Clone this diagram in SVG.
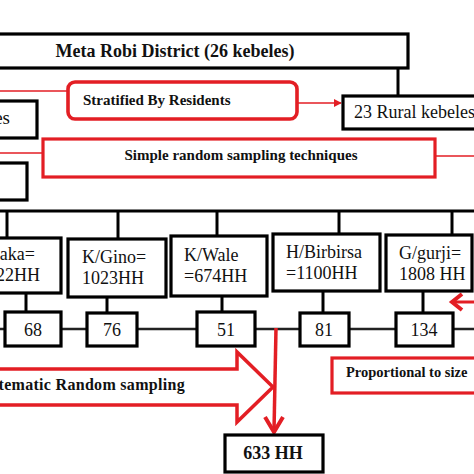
<svg xmlns="http://www.w3.org/2000/svg" width="474" height="474" viewBox="0 0 474 474">
<defs>
<style>
.bx{fill:#fff;stroke:#000;stroke-width:3.2}
.rb{fill:#fff;stroke:#e31e24;stroke-width:3.2}
.ln{fill:none;stroke:#000;stroke-width:3}
.rl{fill:none;stroke:#e31e24;stroke-width:1.6}
.t{font-family:"Liberation Serif","Times New Roman",serif;font-size:18px;fill:#111}
.tb{font-family:"Liberation Serif","Times New Roman",serif;font-weight:bold;font-size:15px;fill:#111}
</style>
<marker id="ah" viewBox="0 0 10 10" refX="9" refY="5" markerWidth="5" markerHeight="5" orient="auto">
<path d="M0,0 L10,5 L0,10 z" fill="#e31e24"/>
</marker>
</defs>
<rect width="474" height="474" fill="#fff"/>
<g id="connectors">
<line class="ln" x1="398" y1="68" x2="398" y2="96"/>
<line class="rl" x1="0" y1="91" x2="68" y2="91"/>
<line class="rl" x1="297" y1="103" x2="341" y2="103" marker-end="url(#ah)"/>
<line class="rl" x1="0" y1="153" x2="43" y2="153"/>
<line class="rl" x1="435" y1="156" x2="474" y2="156"/>
<line class="ln" x1="0" y1="211" x2="474" y2="211"/>
<line class="ln" x1="7" y1="211" x2="7" y2="238"/>
<line class="ln" x1="118" y1="211" x2="118" y2="239"/>
<line class="ln" x1="217" y1="211" x2="217" y2="236"/>
<line class="ln" x1="339" y1="211" x2="339" y2="234"/>
<line class="ln" x1="452" y1="211" x2="452" y2="235"/>
<line class="ln" x1="26" y1="293" x2="26" y2="312"/>
<line class="ln" x1="107" y1="297" x2="107" y2="313"/>
<line class="ln" x1="222" y1="296" x2="222" y2="312"/>
<line class="ln" x1="323" y1="291" x2="323" y2="313"/>
<line class="ln" x1="423" y1="291" x2="423" y2="313"/>
<line x1="0" y1="329" x2="474" y2="329" stroke="#222" stroke-width="2.6"/>
<line x1="474" y1="302" x2="455" y2="302" stroke="#e31e24" stroke-width="3"/>
<path d="M462,294 L452,302 L462,310" fill="none" stroke="#e31e24" stroke-width="4" stroke-linejoin="miter"/>
<line x1="276" y1="328" x2="274" y2="431" stroke="#e31e24" stroke-width="3.5"/>
<path d="M265,417 L274,432 L283,417" fill="none" stroke="#e31e24" stroke-width="4"/>
</g>
<g id="meta-robi">
<rect class="bx" x="-5" y="34" width="413" height="34"/>
<text class="tb" x="175" y="57" text-anchor="middle" style="font-size:18px">Meta Robi District (26 kebeles)</text>
</g>
<g id="stratified">
<rect class="rb" x="68" y="82" width="229" height="37" rx="7" style="stroke-width:3.6"/>
<text class="tb" x="83" y="105">Stratified By Residents</text>
</g>
<g id="rural">
<rect class="bx" x="343" y="96" width="140" height="33"/>
<text class="t" x="354" y="118" style="font-size:18px">23 Rural kebeles</text>
</g>
<g id="urban">
<rect class="bx" x="-5" y="101" width="42" height="37"/>
<text class="t" x="10" y="124" text-anchor="end" style="font-size:19px">es</text>
</g>
<g id="simple-random">
<rect class="rb" x="43" y="139" width="392" height="38"/>
<text class="tb" x="241" y="160" text-anchor="middle">Simple random sampling techniques</text>
</g>
<g id="left-small">
<rect class="bx" x="-5" y="163" width="32" height="37"/>
</g>
<g id="chaka">
<rect class="bx" x="-5" y="238" width="66" height="55"/>
<text class="t" x="35" y="260" text-anchor="end">aka=</text>
<text class="t" x="40" y="281" text-anchor="end">22HH</text>
</g>
<g id="gino">
<rect class="bx" x="68" y="239" width="98" height="58"/>
<text class="t" x="82" y="263">K/Gino=</text>
<text class="t" x="82" y="284">1023HH</text>
</g>
<g id="wale">
<rect class="bx" x="171" y="236" width="96" height="60"/>
<text class="t" x="184" y="261">K/Wale</text>
<text class="t" x="184" y="282">=674HH</text>
</g>
<g id="birbirsa">
<rect class="bx" x="273" y="234" width="107" height="57"/>
<text class="t" x="286" y="258">H/Birbirsa</text>
<text class="t" x="286" y="279">=1100HH</text>
</g>
<g id="gurji">
<rect class="bx" x="386" y="235" width="86" height="56"/>
<text class="t" x="399" y="259">G/gurji=</text>
<text class="t" x="399" y="280">1808 HH</text>
</g>
<g id="n68">
<rect class="bx" x="5" y="312" width="56" height="34"/>
<text class="t" x="33" y="336" text-anchor="middle">68</text>
</g>
<g id="n76">
<rect class="bx" x="87" y="313" width="50" height="33"/>
<text class="t" x="112" y="336" text-anchor="middle">76</text>
</g>
<g id="n51">
<rect class="bx" x="197" y="312" width="58" height="34"/>
<text class="t" x="226" y="336" text-anchor="middle">51</text>
</g>
<g id="n81">
<rect class="bx" x="300" y="313" width="49" height="33"/>
<text class="t" x="324" y="336" text-anchor="middle">81</text>
</g>
<g id="n134">
<rect class="bx" x="396" y="313" width="57" height="33"/>
<text class="t" x="424" y="336" text-anchor="middle">134</text>
</g>
<g id="systematic">
<path d="M-5,369 L237,369 L237,352 L273,387 L237,422 L237,405 L-5,405" fill="none" stroke="#e31e24" stroke-width="3.5" stroke-linejoin="miter"/>
<text class="tb" x="185" y="390" text-anchor="end" style="font-size:16px;letter-spacing:0.3px">tematic Random sampling</text>
</g>
<g id="proportional">
<rect class="rb" x="332" y="358" width="150" height="35"/>
<text class="tb" x="346" y="377" style="font-size:14.5px">Proportional to size</text>
</g>
<g id="total">
<rect class="bx" x="225" y="435" width="98" height="37"/>
<text class="tb" x="273" y="459" text-anchor="middle" style="font-size:18px">633 HH</text>
</g>
</svg>
